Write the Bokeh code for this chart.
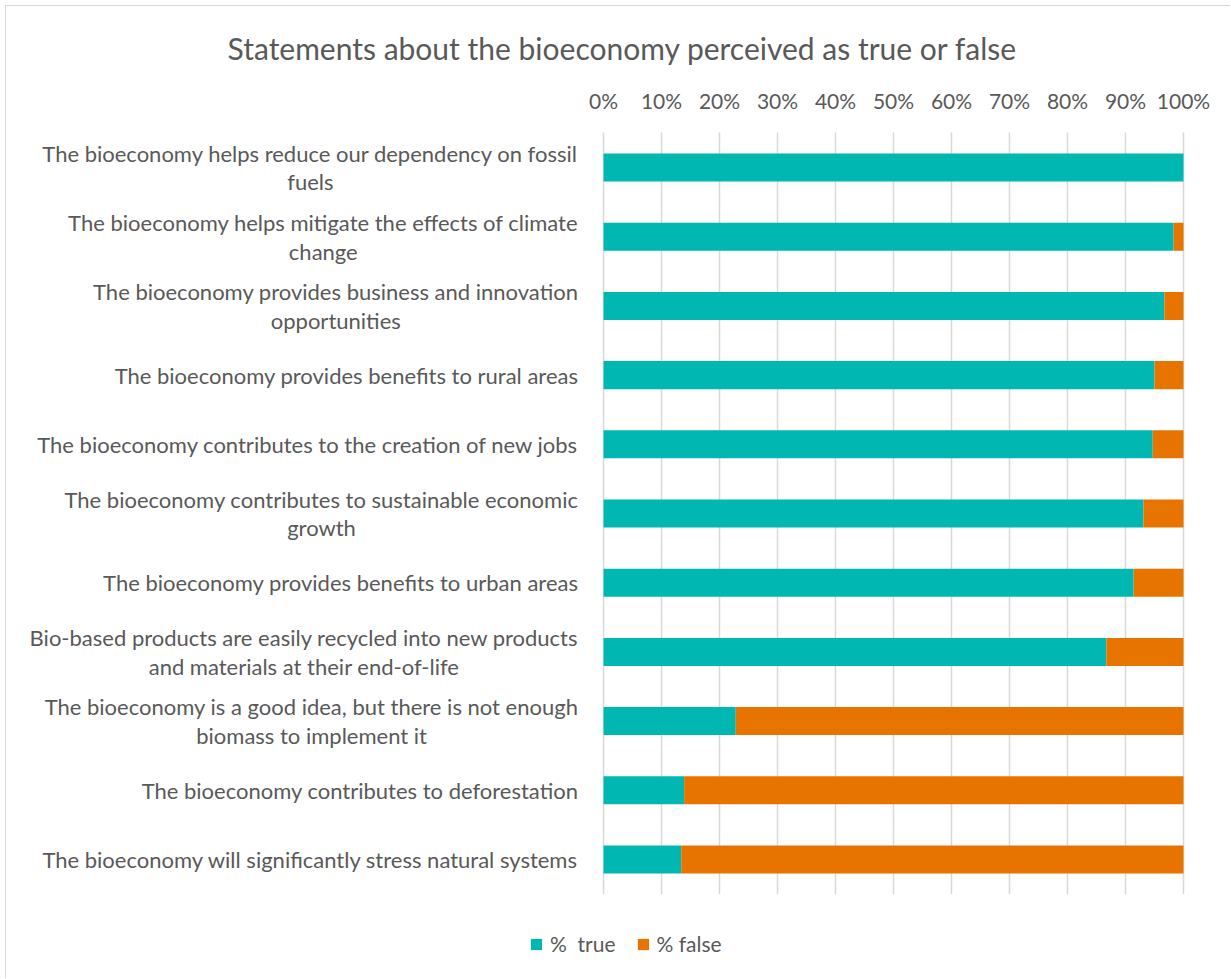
from bokeh.plotting import figure
from bokeh.models import (ColumnDataSource, Range1d, FixedTicker,
                          PrintfTickFormatter, Legend, LegendItem, Title)
from bokeh.core.properties import value
from bokeh.embed import file_html
from bokeh.resources import INLINE

# Survey statements, top to bottom (line breaks where the label wraps)
statements = [
    "The bioeconomy helps reduce our dependency on fossil\nfuels",
    "The bioeconomy helps mitigate the effects of climate\nchange",
    "The bioeconomy provides business and innovation\nopportunities",
    "The bioeconomy provides benefits to rural areas",
    "The bioeconomy contributes to the creation of new jobs",
    "The bioeconomy contributes to sustainable economic\ngrowth",
    "The bioeconomy provides benefits to urban areas",
    "Bio-based products are easily recycled into new products\nand materials at their end-of-life",
    "The bioeconomy is a good idea, but there is not enough\nbiomass to implement it",
    "The bioeconomy contributes to deforestation",
    "The bioeconomy will significantly stress natural systems",
]
pct_true = [100.0, 98.3, 96.7, 95.0, 94.7, 93.1, 91.4, 86.7, 22.8, 13.9, 13.4]
pct_false = [round(100.0 - t, 1) for t in pct_true]
series_labels = ["%  true", "% false"]
tick_values = [0, 10, 20, 30, 40, 50, 60, 70, 80, 90, 100]

TEAL = "#00b8b1"
ORANGE = "#e87400"
GREY_TEXT = "#595959"
GRID = "#d9d9d9"
FONT = "Lato"

n = len(statements)
# row positions: first statement on top
rows = [n - 1 - i for i in range(n)]

source = ColumnDataSource(dict(statement=statements, row=rows,
                               true=pct_true, false=pct_false))

# The frame also covers the label column on the left, a margin on the right
# and the legend strip at the bottom.
p = figure(
    width=1225, height=973,
    x_range=Range1d(-100.52, 107.07),
    y_range=Range1d(-1.734, n - 1 + 0.506),
    x_axis_location="above", y_axis_location=None,
    output_backend="svg", toolbar_location=None,
    min_border_left=14, min_border_right=7,
    min_border_top=126, min_border_bottom=0,
)
p.styles = {"margin-left": "5px", "margin-top": "5px",
            "border-left": "1px solid #d9d9d9", "border-top": "1px solid #d9d9d9"}
p.outline_line_color = None
p.background_fill_color = "white"
p.border_fill_color = "white"
p.xgrid.visible = False
p.ygrid.visible = False

# vertical gridlines at each tick, spanning the rows only
grid_src = ColumnDataSource(dict(x=tick_values,
                                 y0=[-0.5] * len(tick_values),
                                 y1=[n - 0.45] * len(tick_values)))
p.segment(x0="x", x1="x", y0="y0", y1="y1", source=grid_src,
          line_color=GRID, line_width=1.5)

bars = p.hbar_stack(["true", "false"], y="row", height=0.405,
                    color=[TEAL, ORANGE], line_color=None, source=source)

# Statement labels, right-aligned against the 0% line, wrapped lines centred
p.text(x=0, y="row", text="statement", source=source,
       x_offset=-25, anchor="center_right", text_align="center",
       text_baseline="middle", text_font=value(FONT), text_font_size="22px",
       text_color=GREY_TEXT, text_line_height=1.06)

xaxis = p.xaxis[0]
xaxis.ticker = FixedTicker(ticks=tick_values)
xaxis.formatter = PrintfTickFormatter(format="%d%%")
xaxis.axis_line_color = None
xaxis.major_tick_line_color = None
xaxis.minor_tick_line_color = None
xaxis.major_label_standoff = 14
xaxis.major_label_text_font = FONT
xaxis.major_label_text_font_size = "21px"
xaxis.major_label_text_color = GREY_TEXT

title = Title(text="Statements about the bioeconomy perceived as true or false",
              align="center", standoff=37,
              text_font=FONT, text_font_size="30px", text_font_style="normal",
              text_color=GREY_TEXT)
p.add_layout(title, "above")

legend = Legend(items=[LegendItem(label=series_labels[0], renderers=[bars[0]]),
                       LegendItem(label=series_labels[1], renderers=[bars[1]])],
                orientation="horizontal", location=(509, 23),
                glyph_width=14, glyph_height=14, label_standoff=7, spacing=20,
                label_text_font=FONT, label_text_font_size="21px",
                label_text_color=GREY_TEXT, border_line_color=None,
                background_fill_alpha=0, padding=0, margin=0)
p.add_layout(legend)

open("out.html", "w").write(file_html(p, INLINE))
